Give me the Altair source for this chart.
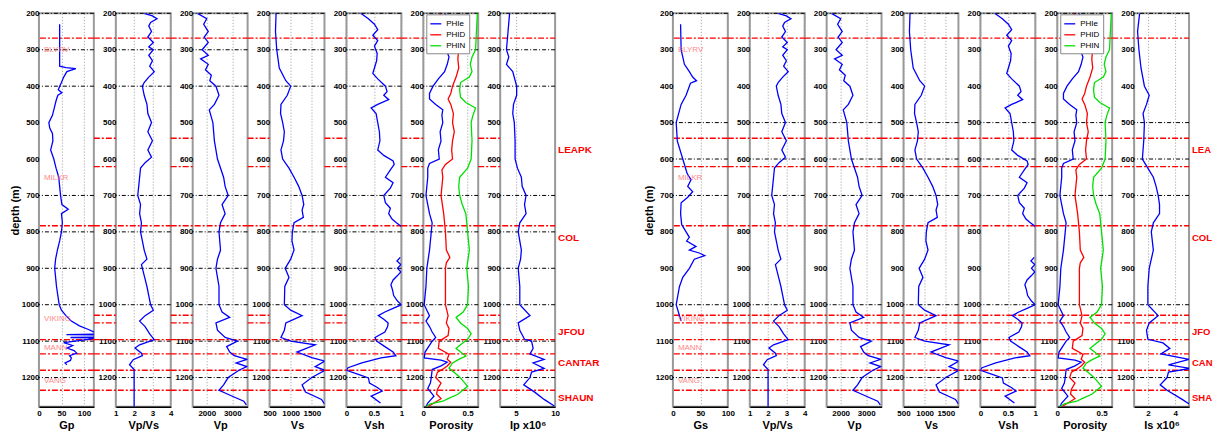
import altair as alt
import pandas as pd

# ---------------- data ----------------
YTICKS = [200, 300, 400, 500, 600, 700, 800, 900, 1000, 1100, 1200]
TOPS_ALL = [268, 543, 621, 783, 1029, 1050, 1096, 1135, 1180, 1235]
TOPS_FULL_L = [268, 783, 1096, 1135, 1180, 1235]
TOPS_GAP_L = [543, 621, 1029, 1050]
GRID_L = [200, 300, 400, 700, 800, 900, 1000, 1100, 1200]
GRID_R = [200, 500, 600, 700, 1000, 1200]
FORM_IN_NAMES = ["BLYRV", "MILKR", "VIKING", "MANN", "VANG"]
FORM_IN_DEPTH = [301, 653, 1040, 1118, 1210]
FORM_OUT_NAMES = ["LEAPK", "COL", "JFOU", "CANTAR", "SHAUN"]
FORM_OUT_DEPTH = [575, 816, 1074, 1159, 1255]

GP_D = [230, 345, 349, 352, 360, 375, 390, 400, 410, 418, 425, 440, 460, 480, 500, 515, 530, 550, 575,
        600, 625, 650, 675, 700, 725, 738, 750, 775, 800, 825, 850, 875, 900, 925, 950, 975, 1000,
        1015, 1030, 1045, 1058, 1068, 1076, 1081, 1082, 1083, 1089, 1090, 1091, 1095, 1104, 1112,
        1119, 1126, 1133, 1140, 1146, 1153, 1160, 1165]
GP = [46, 46, 60, 82, 62, 55, 50, 46, 43, 51, 42, 38, 34, 30, 22, 24, 30, 31, 26,
      33, 38, 44, 46, 48, 51, 65, 50, 52, 50, 46, 41, 37, 35, 37, 39, 42, 45,
      50, 60, 72, 90, 110, 124, 124, 61, 124, 124, 70, 124, 110, 55, 75,
      62, 78, 84, 68, 72, 70, 58, 62]

GS_D = [230, 300, 340, 360, 375, 385, 392, 400, 425, 450, 500, 550, 600, 615, 630, 640, 657, 675,
        690, 705, 720, 750, 780, 800, 815, 825, 840, 850, 858, 865, 875, 900, 925, 950, 1000, 1030, 1045]
GS = [14, 15, 21, 30, 36, 43, 32, 30, 24, 15, 6, 8, 18, 21, 24, 26, 33, 27,
      36, 27, 15, 14, 16, 24, 30, 25, 42, 30, 48, 58, 39, 30, 18, 12, 6, 12, 15]

VPVS_D = [200, 207, 215, 225, 235, 250, 265, 280, 292, 300, 315, 330, 345, 360, 375, 390, 400, 425,
          450, 475, 500, 525, 550, 575, 595, 610, 625, 650, 675, 700, 725, 750, 775, 800, 825, 850,
          875, 890, 910, 930, 950, 975, 1000, 1015, 1030, 1045, 1060, 1080, 1096, 1110, 1119, 1133,
          1140, 1151, 1165, 1178, 1280]
VPVS = [2.55, 3.0, 3.25, 2.9, 2.8, 2.95, 2.75, 3.05, 2.8, 3.05, 2.8, 3.0, 2.85, 3.1, 2.8, 2.55, 2.45, 2.55,
        2.7, 2.75, 2.95, 2.75, 3.0, 2.75, 2.95, 2.6, 2.35, 2.3, 2.25, 2.2, 2.35, 2.3, 2.4, 2.35, 2.45, 2.55,
        2.7, 2.4, 2.5, 2.6, 2.7, 2.8, 2.9, 3.05, 2.6, 2.3, 2.6, 2.85, 3.1, 2.3, 2.05, 2.4,
        2.45, 1.95, 1.75, 2.0, 2.0]

VP_D = [200, 215, 230, 250, 265, 280, 300, 315, 325, 340, 355, 370, 385, 400, 425, 450, 465, 500, 550,
        600, 650, 675, 700, 725, 750, 775, 800, 850, 875, 900, 925, 950, 1000, 1020, 1035, 1050, 1070,
        1090, 1100, 1115, 1130, 1140, 1150, 1160, 1170, 1180, 1200, 1220, 1235, 1250, 1265, 1275]
VP = [1640, 2000, 1880, 2060, 1900, 2060, 1820, 2060, 1760, 2060, 1950, 2180, 2120, 2360, 2480, 2300, 2100,
      2240, 2300, 2420, 2660, 2720, 2840, 2600, 2720, 2540, 2480, 2540, 2420, 2360, 2420, 2480, 2480, 2600,
      2900, 2360, 2420, 2720, 3200, 2780, 2900, 3080, 3570, 3150, 3570, 3260, 2840, 2660, 2480, 2960, 3450, 3550]

VS_D = [200, 250, 300, 350, 385, 400, 425, 450, 475, 500, 525, 550, 575, 600, 625, 650, 675, 700, 725,
        740, 760, 775, 800, 825, 850, 875, 900, 925, 950, 1000, 1015, 1030, 1050, 1070, 1090, 1100, 1110,
        1130, 1145, 1155, 1170, 1180, 1200, 1220, 1240, 1260, 1272]
VS = [654, 640, 670, 730, 885, 1000, 920, 770, 760, 810, 850, 830, 770, 810, 960, 1080, 1190, 1270, 1310,
      1270, 1300, 1080, 1040, 1030, 1080, 1000, 870, 960, 860, 850, 1000, 1270, 885, 850, 770, 1000, 1580,
      1150, 1500, 1810, 1580, 1810, 1500, 1270, 1350, 1730, 1800]

VSH_D = [200, 215, 230, 245, 260, 275, 290, 310, 330, 350, 365, 380, 400, 415, 425, 437, 450, 460, 475,
         500, 525, 550, 575, 590, 605, 615, 630, 650, 665, 680, 700, 720, 735, 750, 765, 775, 785, 800,
         870, 880, 890, 900, 910, 920, 932, 945, 960, 975, 990, 1000, 1010, 1020, 1030, 1040, 1050, 1060,
         1075, 1090, 1100, 1115, 1130, 1140, 1146, 1160, 1173, 1180, 1192, 1201, 1215, 1228, 1237, 1251, 1270]
VSH = [0.26, 0.40, 0.51, 0.57, 0.48, 0.57, 0.51, 0.56, 0.55, 0.51, 0.48, 0.57, 0.71, 0.74, 0.68, 0.77, 0.57, 0.45, 0.54,
       0.57, 0.6, 0.61, 0.57, 0.68, 0.85, 0.87, 0.80, 0.71, 0.85, 0.80, 0.68, 0.71, 0.80, 0.77, 0.83, 0.91, 1.0, None,
       0.98, 0.92, 0.99, 0.93, 0.99, 0.93, 0.85, 0.81, 0.84, 0.86, 0.93, 1.0, 0.85, 0.7, 0.58, 0.68, 0.76, 0.75,
       0.7, 0.52, 0.55, 0.7, 0.85, 0.9, 0.63, 0.28, 0.03, 0.0, 0.23, 0.4, 0.42, 0.57, 0.65, 0.45, 0.62]

PHIE_D = [200, 250, 300, 320, 340, 360, 380, 400, 420, 435, 450, 465, 480, 500, 525, 550, 575, 600, 612, 625,
          650, 700, 725, 750, 775, 800, 850, 900, 950, 1000, 1015, 1030, 1045, 1060, 1075, 1090, 1100, 1115,
          1130, 1146, 1152, 1158, 1168, 1178, 1200, 1215, 1230, 1251, 1262, 1270, 1280]
PHIE = [0.25, 0.25, 0.26, 0.29, 0.27, 0.24, 0.17, 0.11, 0.07, 0.07, 0.14, 0.22, 0.21, 0.22, 0.19, 0.20, 0.17, 0.18,
        0.07, 0.05, 0.05, 0.03, 0.05, 0.07, 0.10, 0.09, 0.07, 0.04, 0.03, 0.01, 0.04, 0.07, 0.03, 0.07, 0.10, 0.14,
        0.10, 0.06, 0.02, 0.01, 0.2, 0.27, 0.2, 0.1, 0.09, 0.08, 0.05, 0.12, 0.08, 0.05, 0.03]

PHID_D = [200, 250, 300, 325, 350, 375, 400, 420, 435, 450, 475, 500, 525, 550, 575, 600, 615, 630, 650, 700,
          750, 800, 850, 870, 885, 900, 950, 1000, 1030, 1050, 1065, 1085, 1100, 1120, 1136, 1150, 1158, 1168,
          1177, 1185, 1200, 1215, 1232, 1245, 1258, 1270, 1280]
PHID = [0.18, 0.35, 0.40, 0.39, 0.40, 0.37, 0.33, 0.31, 0.28, 0.31, 0.34, 0.33, 0.35, 0.33, 0.32, 0.33, 0.25,
        0.21, 0.22, 0.20, 0.23, 0.25, 0.26, 0.30, 0.26, 0.25, 0.25, 0.25, 0.28, 0.26, 0.29, 0.28, 0.18, 0.17,
        0.29, 0.27, 0.31, 0.27, 0.22, 0.16, 0.14, 0.20, 0.16, 0.15, 0.20, 0.12, 0.05]

PHIN_D = [200, 250, 300, 320, 340, 360, 375, 390, 410, 430, 445, 460, 480, 500, 550, 600, 625, 650, 675, 700,
          725, 750, 800, 850, 900, 950, 1000, 1020, 1035, 1050, 1065, 1080, 1095, 1110, 1120, 1141, 1150, 1160,
          1174, 1188, 1201, 1224, 1246, 1258, 1265, 1272, 1280]
PHIN = [0.61, 0.60, 0.59, 0.55, 0.53, 0.55, 0.52, 0.42, 0.41, 0.42, 0.48, 0.59, 0.56, 0.54, 0.55, 0.54, 0.50,
        0.41, 0.40, 0.41, 0.44, 0.48, 0.50, 0.52, 0.49, 0.51, 0.50, 0.45, 0.37, 0.42, 0.50, 0.54, 0.50, 0.42,
        0.37, 0.48, 0.40, 0.33, 0.29, 0.36, 0.42, 0.50, 0.39, 0.28, 0.22, 0.08, 0.03]

IP_D = [200, 250, 300, 320, 340, 360, 400, 425, 450, 475, 500, 550, 600, 625, 650, 675, 700, 725, 750, 775,
        800, 850, 875, 900, 950, 1000, 1030, 1050, 1070, 1095, 1100, 1120, 1135, 1150, 1160, 1175, 1185,
        1200, 1220, 1240, 1260, 1278]
IP = [4.2, 4.0, 3.8, 4.1, 3.8, 4.6, 5.1, 5.1, 4.7, 4.6, 4.8, 4.9, 4.9, 5.2, 5.7, 5.8, 6.3, 6.1, 6.3, 5.5,
      5.3, 5.7, 5.6, 5.3, 5.5, 5.5, 6.8, 5.3, 5.5, 6.1, 7.0, 7.2, 6.8, 8.6, 7.2, 8.6, 7.0,
      6.8, 6.0, 7.4, 8.6, 9.9]

IS_D = [200, 250, 300, 350, 400, 425, 450, 475, 500, 550, 600, 625, 650, 675, 700, 725, 750, 775, 800, 850,
        900, 950, 1000, 1030, 1050, 1070, 1095, 1105, 1120, 1135, 1150, 1165, 1175, 1185, 1200, 1220, 1235,
        1260, 1275]
IS = [1.4, 1.25, 1.35, 1.5, 1.75, 2.1, 1.9, 1.65, 1.75, 1.7, 1.6, 2.0, 2.4, 2.6, 2.75, 2.85, 2.85, 2.4, 2.25,
      2.4, 2.1, 2.0, 2.0, 2.75, 2.1, 1.9, 2.0, 3.1, 3.6, 2.95, 5.0, 3.5, 5.1, 3.5, 3.4, 2.9, 3.4, 4.5, 5.1]

# ---------------- styling ----------------
FONT = "Liberation Sans, Arial, sans-serif"
BLUE = "#0000ff"
RED = "#ff0000"
GREEN = "#00e000"
H = 394
W = 55
SPACING = 22
GROUP_GAP = 74
DEPTH_DOMAIN = [200, 1280]


def curve_df(depths, values, name):
    rows = []
    seg = 0
    for d, v in zip(depths, values):
        if v is None:
            seg += 1
            continue
        rows.append({"depth": d, "val": v, "name": name, "seg": f"{name}-{seg}"})
    return pd.DataFrame(rows)


def y_enc(first):
    return alt.Y(
        "depth:Q",
        scale=alt.Scale(domain=DEPTH_DOMAIN, reverse=True, nice=False, zero=False),
        axis=alt.Axis(values=YTICKS, title="depth (m)" if first else None, grid=False, domain=False,
                      ticks=False, labelPadding=0, labelExpr="'' + datum.value", titlePadding=1,
                      labelOverlap=False),
    )


def make_panel(curves, xdom, xticks, xtitle, grid_d, full_d, gap_d,
               first=False, inner=False, outer=False, legend=False, label_limit=0):
    ye = y_enc(first)
    layers = []
    layers.append(
        alt.Chart(pd.DataFrame({"depth": grid_d}))
        .mark_rule(color="black", strokeDash=[4, 2, 1, 2], strokeWidth=1)
        .encode(y=ye)
    )
    if full_d:
        r = alt.Chart(pd.DataFrame({"depth": full_d})).mark_rule(
            color=RED, strokeDash=[6, 2, 2, 2], strokeWidth=1.4)
        if first:
            r = r.encode(y=ye)
        else:
            r = r.encode(y=ye, x=alt.value(-SPACING), x2=alt.value(W))
        layers.append(r)
    if gap_d and not first:
        layers.append(
            alt.Chart(pd.DataFrame({"depth": gap_d}))
            .mark_rule(color=RED, strokeDash=[6, 2, 2, 2], strokeWidth=1.4)
            .encode(y=ye, x=alt.value(-SPACING), x2=alt.value(0))
        )
    df = pd.concat([curve_df(d, v, n) for d, v, n in curves], ignore_index=True)
    xe = alt.X(
        "val:Q",
        scale=alt.Scale(domain=xdom, nice=False, zero=False),
        axis=alt.Axis(values=xticks, title=xtitle, grid=True, gridDash=[1, 2], gridColor="#9a9a9a",
                      gridWidth=1, ticks=False, labelFlush=False, labelOverlap=False,
                      labelExpr="'' + datum.value", labelPadding=3, titlePadding=2),
    )
    base = alt.Chart(df).mark_line(clip=True, strokeWidth=1.3)
    if legend:
        line = base.encode(
            x=xe, y=ye, order=alt.Order("depth:Q"), detail="seg:N",
            color=alt.Color("name:N",
                            scale=alt.Scale(domain=["PHIe", "PHID", "PHIN"], range=[BLUE, RED, GREEN]),
                            legend=alt.Legend(orient="none", legendX=3, legendY=1, title=None,
                                              symbolType="stroke", symbolSize=120, symbolStrokeWidth=1.3,
                                              labelFontSize=8, labelFont=FONT, labelFontWeight="normal",
                                              labelOffset=4, rowPadding=0, padding=3, fillColor="white",
                                              strokeColor="#888888", zindex=1)),
        )
    else:
        line = base.encode(x=xe, y=ye, order=alt.Order("depth:Q"), detail="seg:N",
                           color=alt.value(BLUE))
    layers.append(line)
    if inner:
        layers.append(
            alt.Chart(pd.DataFrame({"depth": FORM_IN_DEPTH, "label": FORM_IN_NAMES}))
            .mark_text(align="left", baseline="middle", color="#ff6060", opacity=0.75, fontSize=8,
                       font=FONT)
            .encode(y=ye, x=alt.value(5), text="label:N")
        )
    if outer:
        tkw = dict(align="left", baseline="middle", color=RED, fontSize=10, fontWeight="bold", font=FONT)
        if label_limit:
            tkw.update(limit=label_limit, ellipsis="\u200b", fontSize=9.5)
        layers.append(
            alt.Chart(pd.DataFrame({"depth": FORM_OUT_DEPTH, "label": FORM_OUT_NAMES}))
            .mark_text(**tkw)
            .encode(y=ye, x=alt.value(W + 3), text="label:N")
        )
    return alt.layer(*layers).properties(width=W, height=H)


def group(g_curve, g_dom, g_ticks, g_title, i_curve, i_dom, i_ticks, i_title, grid_d, full_d, gap_d,
          label_limit=0):
    specs = [
        ([g_curve], g_dom, g_ticks, g_title),
        ([(VPVS_D, VPVS, "vpvs")], [1, 4], [1, 2, 3, 4], "Vp/Vs"),
        ([(VP_D, VP, "vp")], [1450, 3600], [2000, 3000], "Vp"),
        ([(VS_D, VS, "vs")], [500, 1800], [500, 1000, 1500], "Vs"),
        ([(VSH_D, VSH, "vsh")], [0, 1], [0, 0.5, 1], "Vsh"),
        ([(PHIE_D, PHIE, "PHIe"), (PHID_D, PHID, "PHID"), (PHIN_D, PHIN, "PHIN")], [0, 0.62], [0, 0.5],
         "Porosity"),
        ([i_curve], i_dom, i_ticks, i_title),
    ]
    panels = []
    for k, (cv, dom, ticks, title) in enumerate(specs):
        panels.append(make_panel(cv, dom, ticks, title, grid_d, full_d, gap_d,
                                 first=(k == 0), inner=(k == 0), outer=(k == 6), legend=(k == 5),
                                 label_limit=label_limit))
    return panels


left = group((GP_D, GP, "gp"), [0, 122], [0, 50, 100], "Gp",
             (IP_D, IP, "ip"), [3, 10], [5, 10], "Ip  x10⁶",
             GRID_L, TOPS_FULL_L, TOPS_GAP_L)
right = group((GS_D, GS, "gs"), [0, 100], [0, 50, 100], "Gs",
              (IS_D, IS, "is"), [1, 5], [2, 4], "Is  x10⁶",
              GRID_R, TOPS_ALL, [], label_limit=23)

spacer = (
    alt.Chart(pd.DataFrame({"depth": [200]}))
    .mark_point(opacity=0)
    .encode(y=alt.Y("depth:Q", axis=None))
    .properties(width=GROUP_GAP, height=H, view=alt.ViewBackground(stroke="transparent"))
)

chart = (
    alt.hconcat(*left, spacer, *right, spacing=SPACING, bounds="flush")
    .resolve_scale(x="independent", y="independent", color="independent")
    .properties(padding={"left": 0, "top": 0, "right": 0, "bottom": 0})
    .configure_view(stroke="#9a9a9a", strokeWidth=2)
    .configure_axis(labelFont=FONT, labelFontSize=8, labelFontWeight="bold", labelColor="black",
                    titleFont=FONT, titleFontSize=11, titleFontWeight="bold", titleColor="black",
                    domainColor="black", domainWidth=1.5)
)

chart.save("out.html", embed_options={"renderer": "svg", "actions": False})
